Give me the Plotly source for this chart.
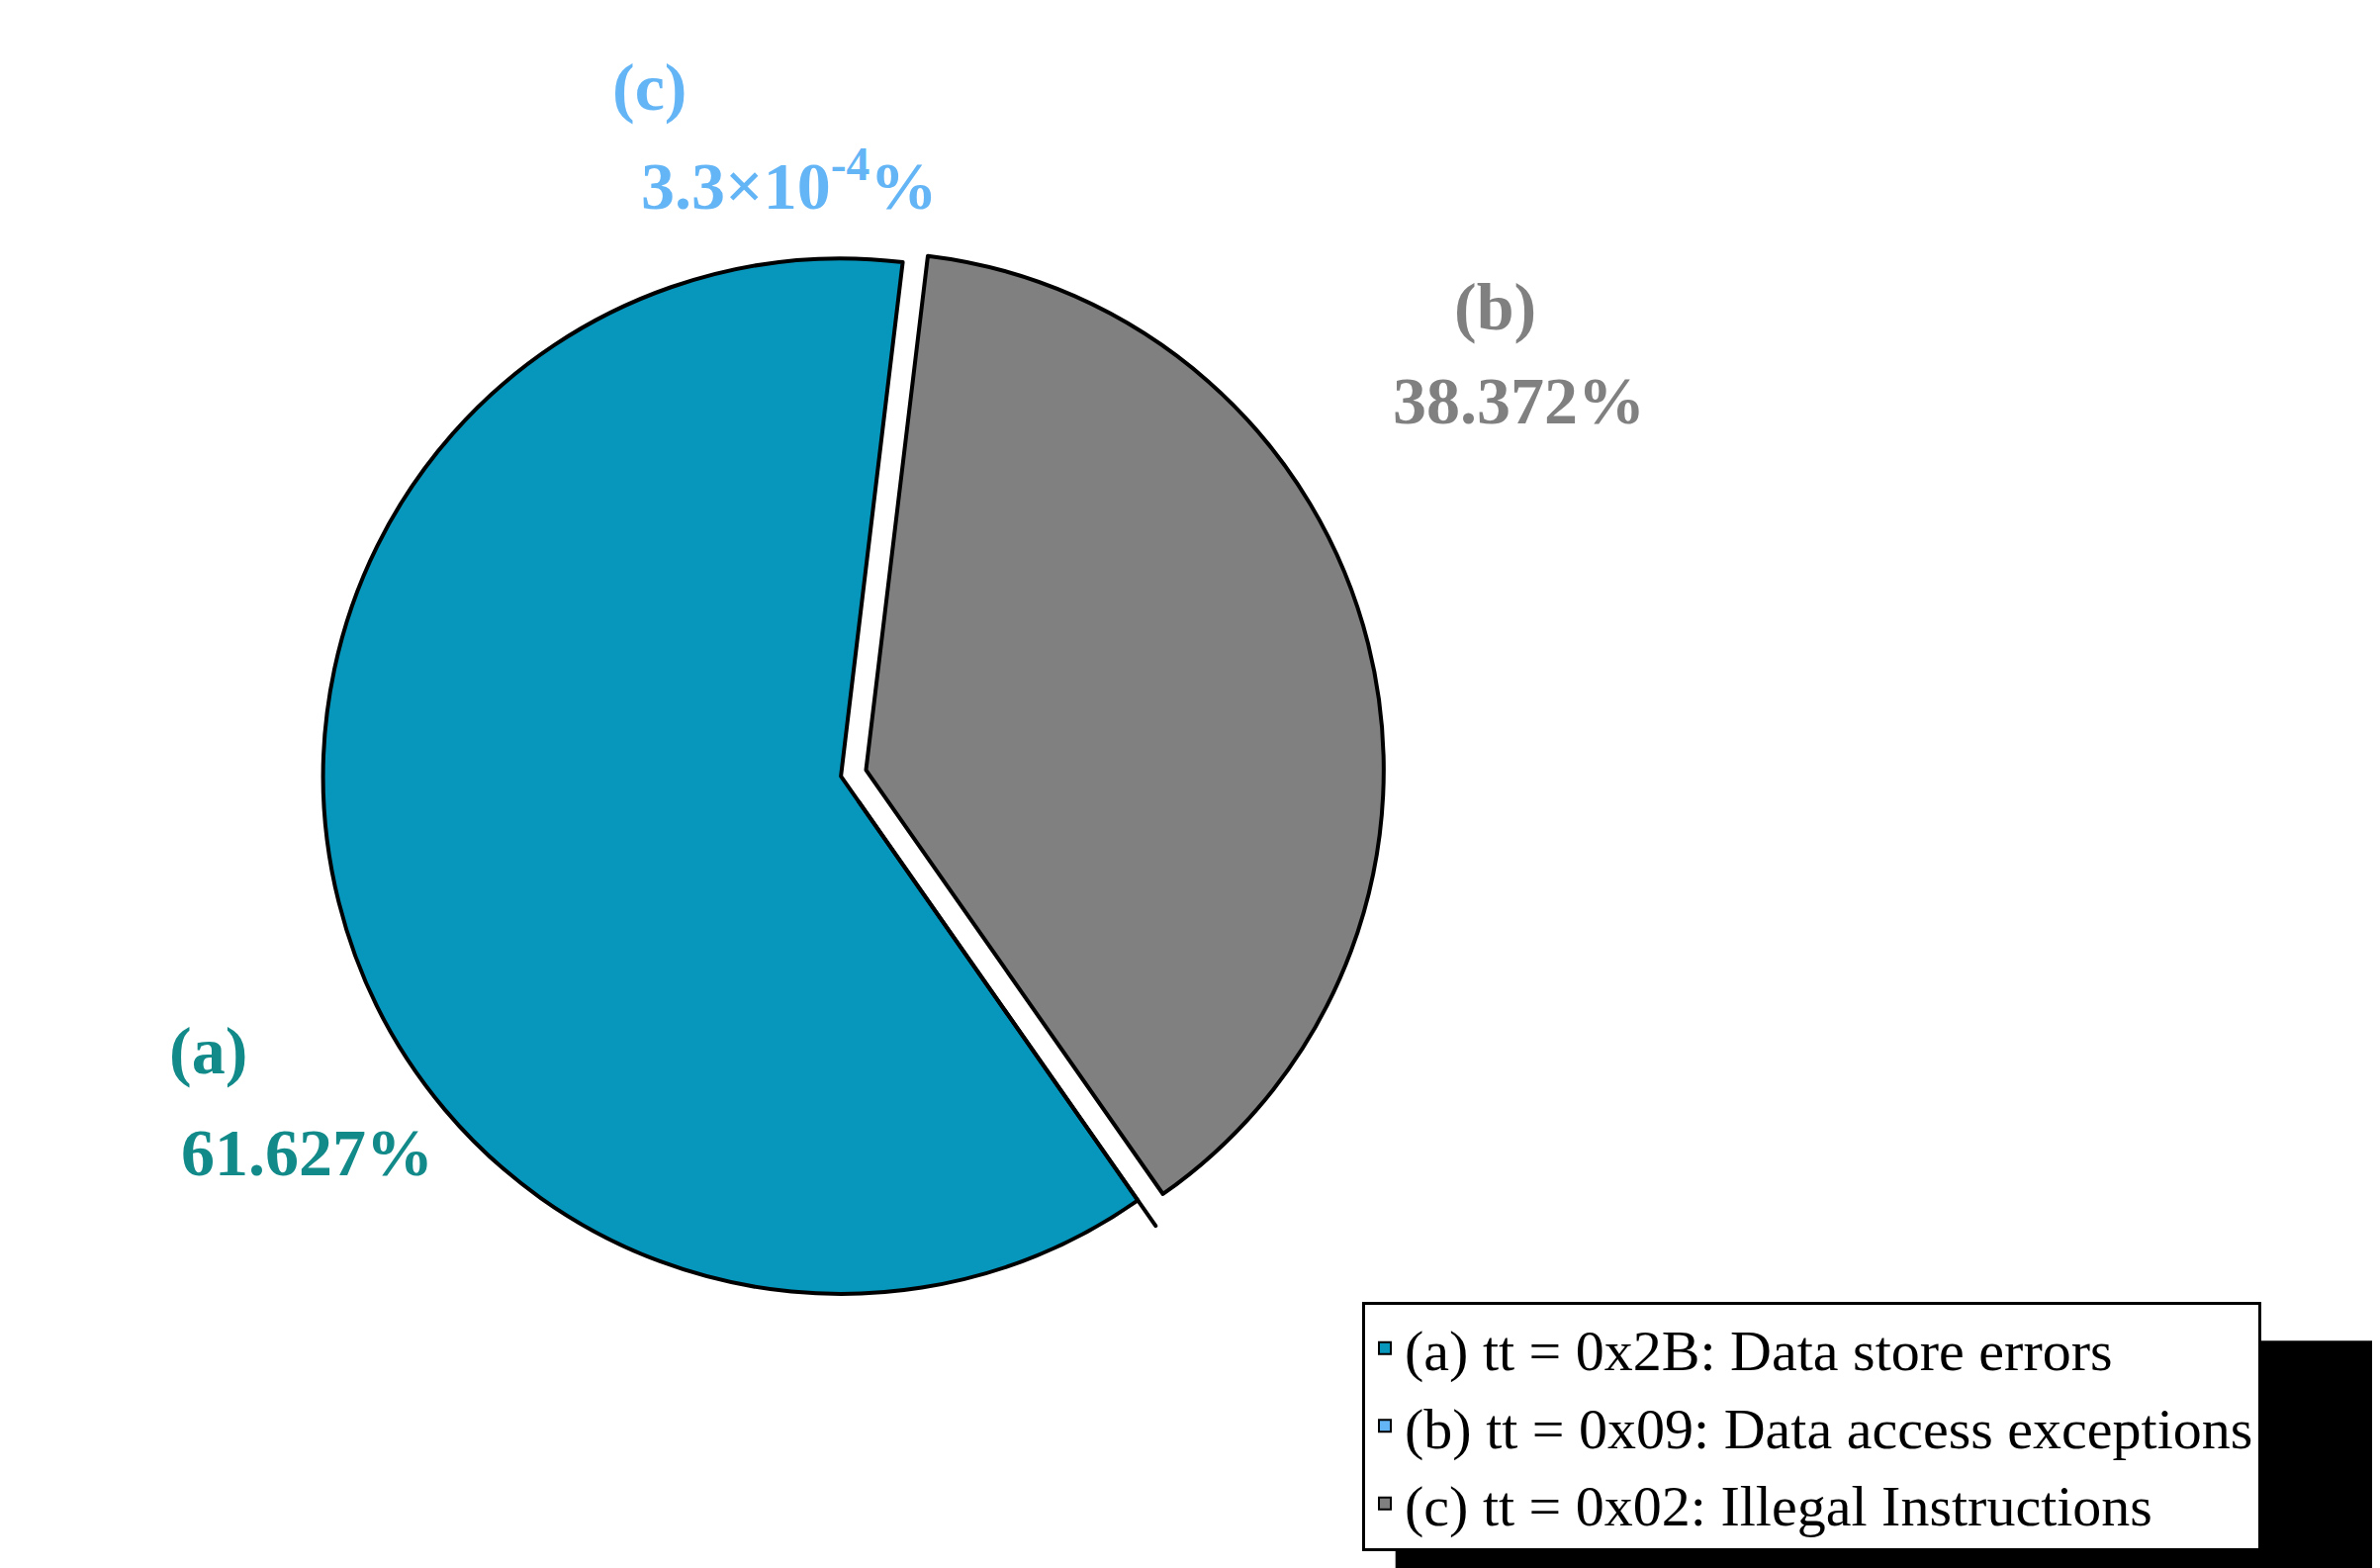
import plotly.graph_objects as go

labels = ["(a) tt = 0x2B: Data store errors", "(b) tt = 0x09: Data access exceptions", "(c) tt = 0x02: Illegal Instructions"]
values = [61.627, 3.3e-4, 38.372]
colors = ["#0797BD", "#64B5F6", "#808080"]
pulls = [0, 0.06, 0.05]

fig = go.Figure(go.Pie(
    labels=labels, values=values, sort=False, direction="counterclockwise",
    rotation=145, pull=pulls, textinfo="none", hoverinfo="label+percent",
    marker=dict(colors=colors, line=dict(color="black", width=4)),
    domain=dict(x=[0.06, 0.64], y=[0.16, 0.86])))

font = "Liberation Serif"
ann = [
    ("(c)", 0.253, 0.975, colors[1]),
    ("3.3×10<sup>-4</sup>%", 0.265, 0.918, colors[1]),
    ("(b)", 0.625, 0.835, "#808080"),
    ("38.372%", 0.635, 0.775, "#808080"),
    ("(a)", 0.067, 0.31, "#138A8A"),
    ("61.627%", 0.072, 0.245, "#138A8A"),
]
for t, x, y, c in ann:
    fig.add_annotation(text=f"<b>{t}</b>", x=x, y=y, xref="paper", yref="paper",
                       showarrow=False, font=dict(family=font, size=68, color=c))

fig.add_shape(type="rect", xref="paper", yref="paper", x0=0.583, x1=0.997, y0=0.005, y1=0.15,
              fillcolor="black", line=dict(width=0), layer="below")
fig.update_layout(
    width=2406, height=1585, paper_bgcolor="white", plot_bgcolor="white",
    margin=dict(l=0, r=0, t=0, b=0),
    legend=dict(x=0.569, y=0.175, xanchor="left", yanchor="top", bgcolor="white",
                bordercolor="black", borderwidth=3,
                font=dict(family=font, size=58, color="black"), itemsizing="constant"),
)
fig.write_html("out.html")
